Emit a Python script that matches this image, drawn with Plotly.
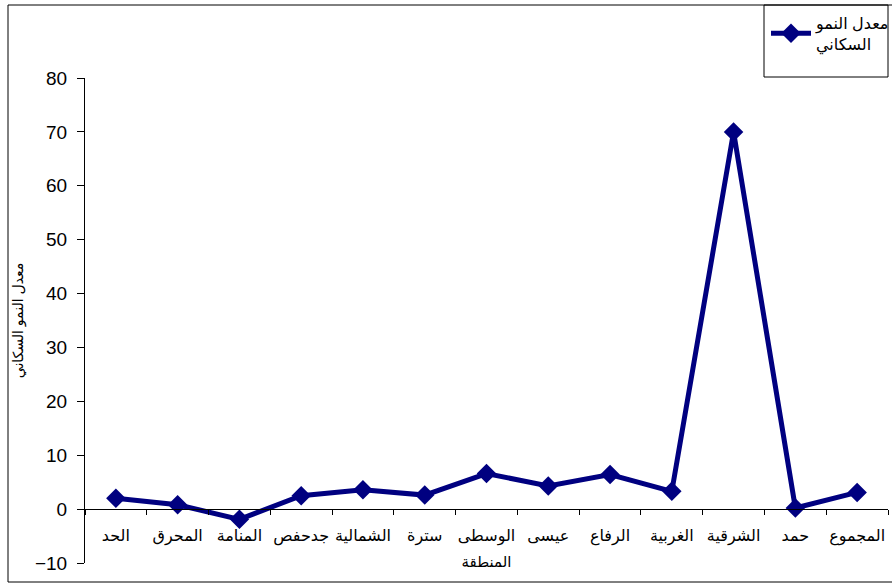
import plotly.graph_objects as go

# ---- data ----
regions = ["الحد", "المحرق", "المنامة", "جدحفص", "الشمالية", "سترة", "الوسطى",
           "عيسى", "الرفاع", "الغربية", "الشرقية", "حمد", "المجموع"]
growth = [2.0, 0.8, -1.9, 2.5, 3.6, 2.6, 6.6, 4.3, 6.4, 3.3, 70.0, 0.2, 3.1]
y_tick_vals = [-10, 0, 10, 20, 30, 40, 50, 60, 70, 80]
series_name = "معدل النمو<br>السكاني"
y_title = "معدل النمو السكاني"
x_title = "المنطقة"

NAVY = "#000080"
FONT = "Liberation Sans, Arial, DejaVu Sans, sans-serif"

W, H = 892, 585
ML, MR, MT, MB = 85, 4, 78, 22
pw = W - ML - MR
ph = H - MT - MB


def px_x(x):
    return (x - ML) / pw


def px_y(y):
    return (H - MB - y) / ph


fig = go.Figure()
fig.add_trace(go.Scatter(
    x=regions, y=growth, mode="lines+markers", name=series_name,
    line=dict(color=NAVY, width=5),
    marker=dict(symbol="diamond", size=15, color=NAVY),
))

ymin, ymax = y_tick_vals[0], y_tick_vals[-1]

fig.update_layout(
    width=W, height=H,
    margin=dict(l=ML, r=MR, t=MT, b=MB, autoexpand=False),
    paper_bgcolor="white", plot_bgcolor="white",
    font=dict(family=FONT, color="black"),
    showlegend=True,
    legend=dict(
        x=px_x(766), y=px_y(6), xanchor="left", yanchor="top",
        bgcolor="rgba(0,0,0,0)", borderwidth=0,
        font=dict(size=16, family=FONT),
        itemwidth=40,
    ),
    xaxis=dict(
        type="category", tickson="boundaries",
        range=[-0.5, len(regions) - 0.5],
        anchor="free", position=(0 - ymin) / (ymax - ymin),
        showline=True, linecolor="black", linewidth=1,
        ticks="outside", ticklen=5, tickcolor="black",
        showgrid=False, zeroline=False,
        tickangle=0,
        tickfont=dict(size=16, family=FONT),
        ticklabelstandoff=12,
        title=dict(text=x_title, font=dict(size=15, family=FONT), standoff=11),
        automargin=False,
    ),
    yaxis=dict(
        range=[ymin, ymax], tickvals=y_tick_vals,
        showline=True, linecolor="black", linewidth=1,
        ticks="outside", ticklen=7, tickcolor="black",
        showgrid=False, zeroline=False,
        tickfont=dict(size=19, family=FONT),
        ticklabelstandoff=6,
        title=dict(text=y_title, font=dict(size=14, family=FONT), standoff=8),
        automargin=False,
    ),
    shapes=[
        dict(type="rect", xref="paper", yref="paper",
             x0=px_x(8), x1=px_x(900), y0=px_y(582), y1=px_y(5),
             line=dict(color="black", width=1), fillcolor="rgba(0,0,0,0)"),
        dict(type="rect", xref="paper", yref="paper",
             x0=px_x(764), x1=px_x(888), y0=px_y(77), y1=px_y(5),
             line=dict(color="black", width=1), fillcolor="rgba(0,0,0,0)"),
    ],
)

fig.write_html("out.html")
